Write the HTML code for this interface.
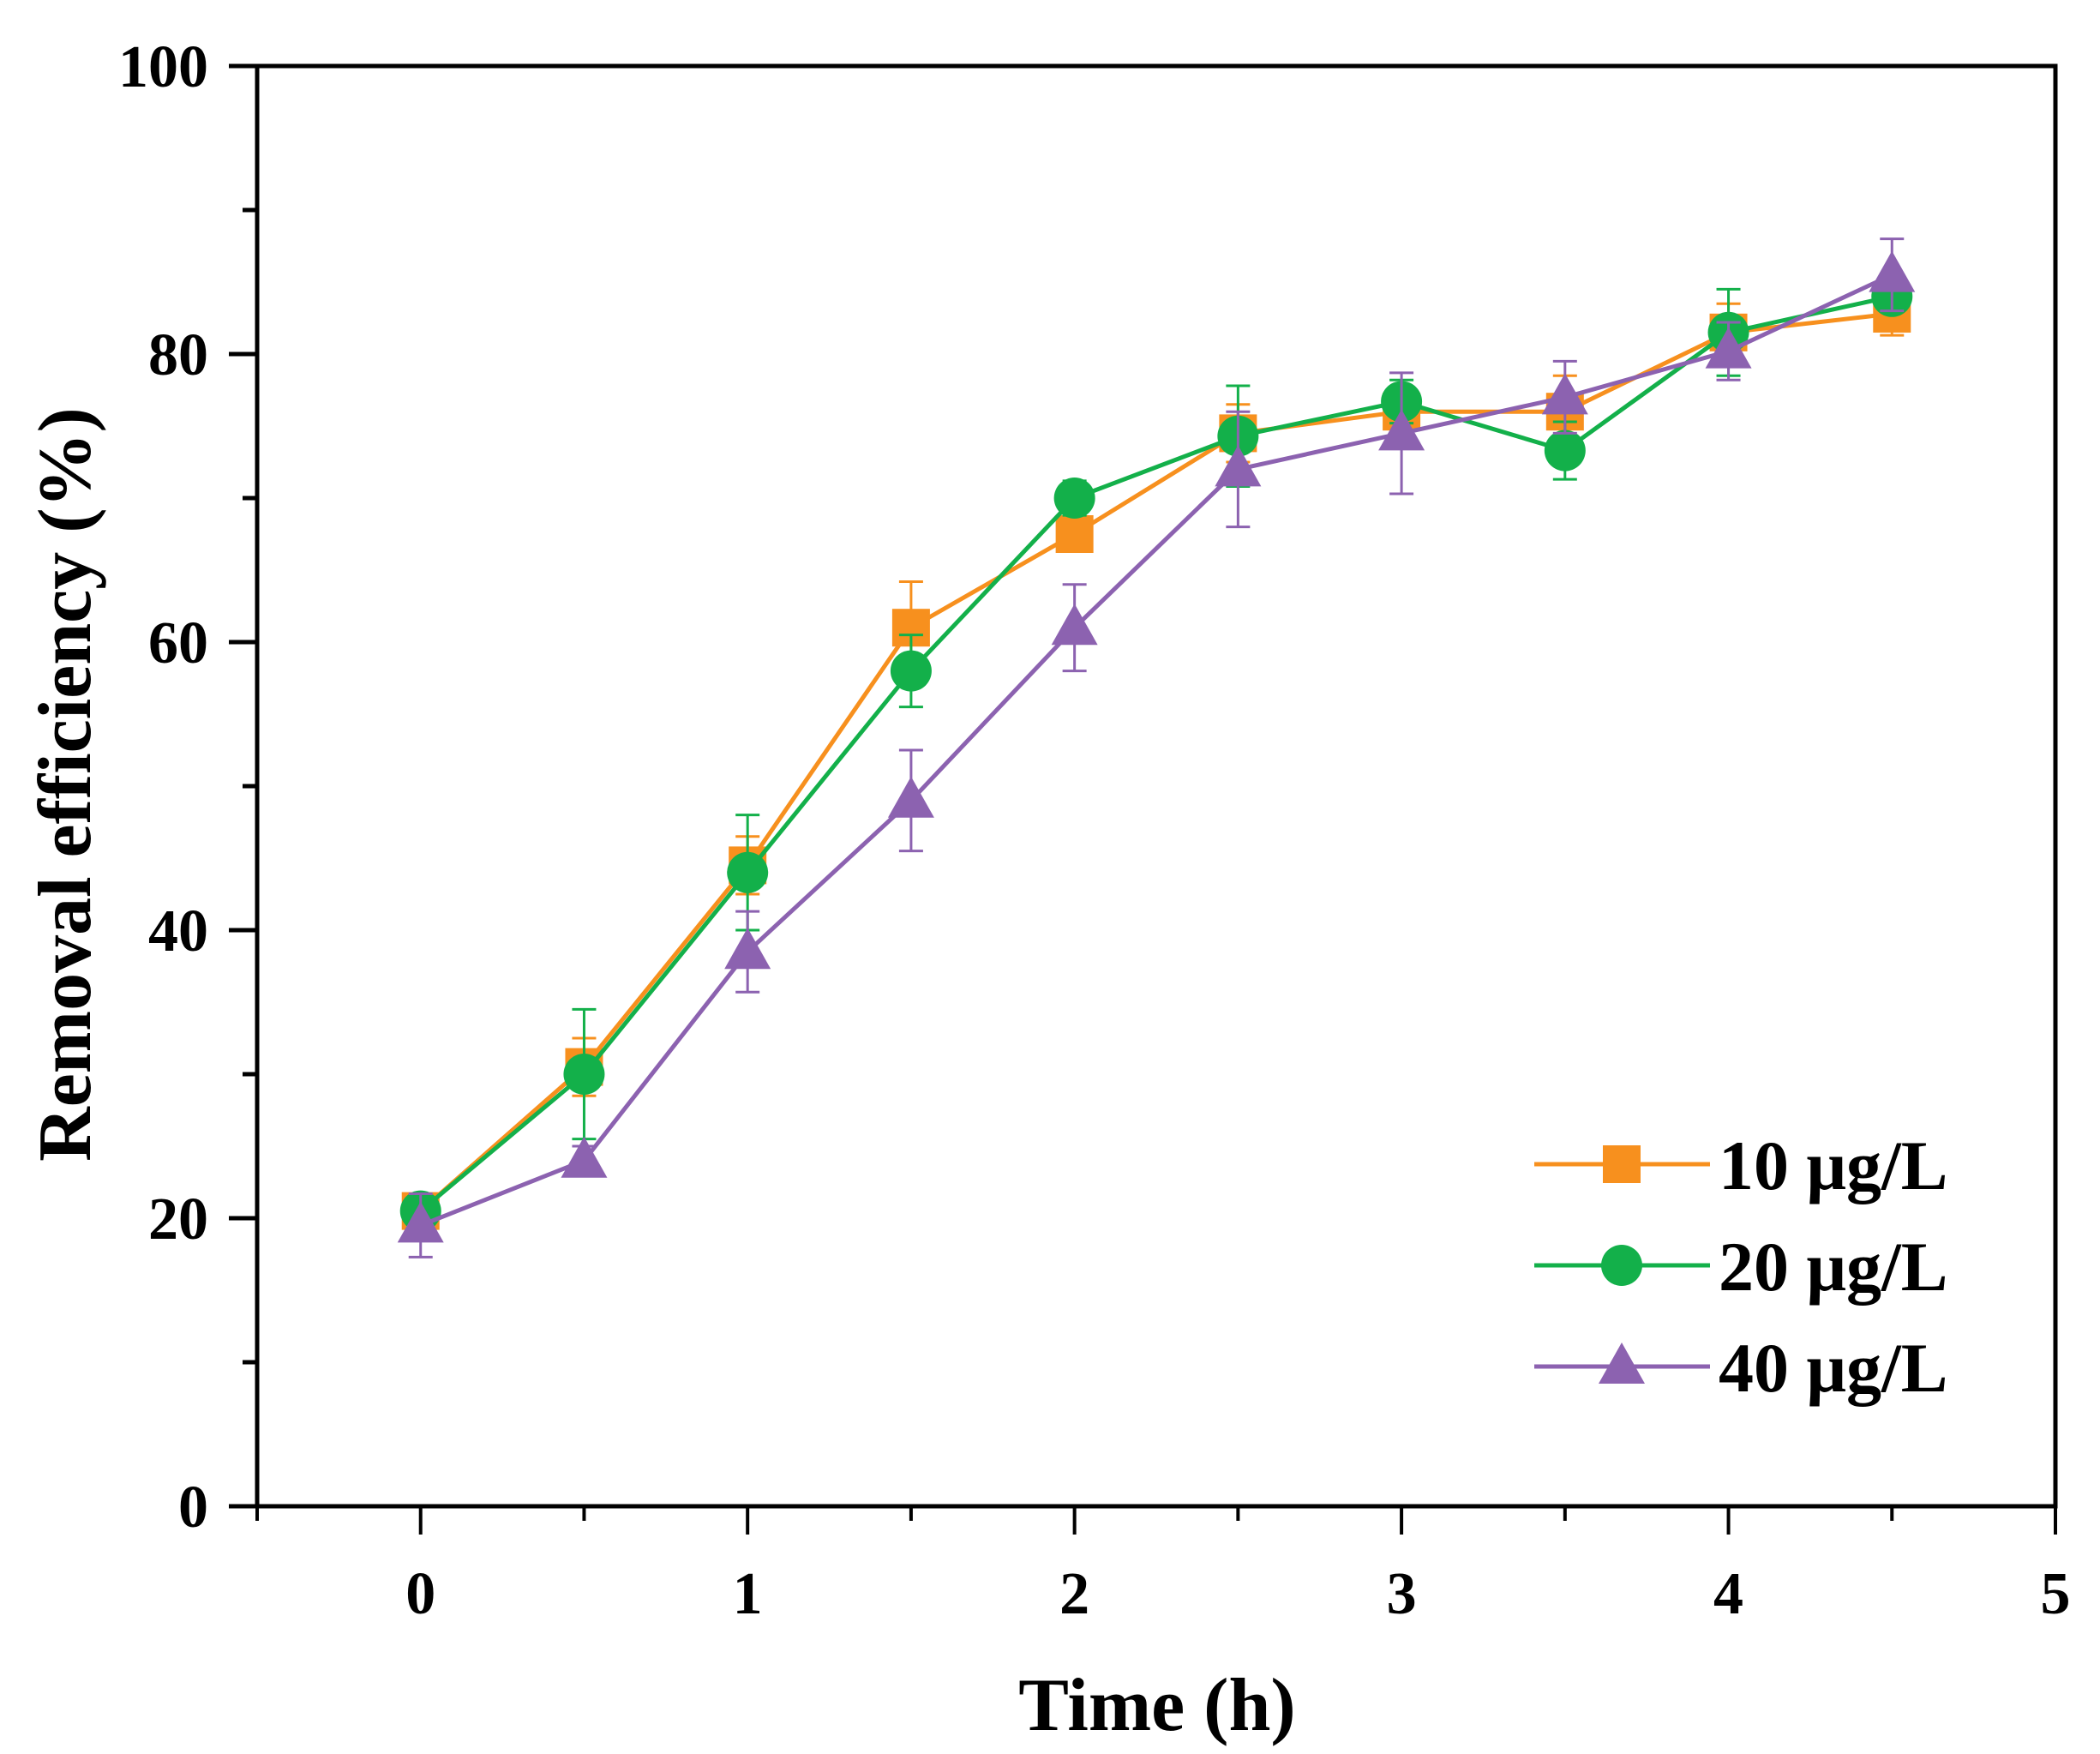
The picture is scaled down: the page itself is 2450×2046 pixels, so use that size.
<!DOCTYPE html>
<html><head><meta charset="utf-8"><style>
html,body{margin:0;padding:0;background:#fff;}
svg{display:block;}
text{font-family:"Liberation Serif",serif;font-weight:bold;fill:#000;}
</style></head><body>
<svg id="chart" width="2450" height="2046" viewBox="0 0 2450 2046" xmlns="http://www.w3.org/2000/svg">
<g id="axes"></g>
<g id="series"></g>
<g id="legend"></g>
<text x="1350" y="2018" font-size="88" text-anchor="middle">Time (h)</text>
<text transform="translate(105,915) rotate(-90)" font-size="88" text-anchor="middle">Removal efficiency (%)</text>
</svg>
<script>
const times = [0,0.5,1,1.5,2,2.5,3,3.5,4,4.5];
const s10 = [20.5,30.5,44.5,61,67.5,74.5,76,76,81.5,82.8];
const s20 = [20.5,30,44,58,70,74.3,76.7,73.3,81.5,84];
const s40 = [19.5,24,38.5,49,61,72,74.5,77,80.2,85.5];
const e10 = [1,2,2,3.2,1,2,1.5,2.5,2,1.5];
const e20 = [1,4.5,4,2.5,1.2,3.5,1.5,2,3,1];
const e40 = [2.2,1,2.8,3.5,3,4,4.2,2.5,2,2.5];
const xTicks = [0,1,2,3,4,5];
const yTicks = [0,20,40,60,80,100];
const seriesNames = ["10 μg/L","20 μg/L","40 μg/L"];

const NS="http://www.w3.org/2000/svg";
const L=300,R=2398,T=77,B=1757;
const X0=-0.5,X1=5,Y0=0,Y1=100;
function sx(v){return L+(v-X0)/(X1-X0)*(R-L);}
function sy(v){return B-(v-Y0)/(Y1-Y0)*(B-T);}
function mk(tag,attrs,parent){const e=document.createElementNS(NS,tag);for(const k in attrs)e.setAttribute(k,attrs[k]);parent.appendChild(e);return e;}
const axes=document.getElementById('axes');
let el=mk('rect',{x:L,y:T,width:R-L,height:B-T,fill:'none',stroke:'#000','stroke-width':5},axes);


for(let v=0;v<=100;v+=10){
  const major=v%20===0;
  el=mk('line',{x1:L-(major?33:17),x2:L,y1:sy(v),y2:sy(v),stroke:'#000','stroke-width':5},axes);
  
  
}
yTicks.forEach(v=>{
  el=mk('text',{x:243,y:sy(v)+24,'font-size':70,'text-anchor':'end'},axes);
  el.textContent=v;
  
  
});
for(let v=-0.5;v<=5.001;v+=0.5){
  const major=Math.abs(v-Math.round(v))<1e-6;
  el=mk('line',{x1:sx(v),x2:sx(v),y1:B,y2:B+(major?33:17),stroke:'#000','stroke-width':4},axes);
  
  
}
xTicks.forEach(v=>{
  el=mk('text',{x:sx(v),y:1882,'font-size':70,'text-anchor':'middle'},axes);
  el.textContent=v;
  
  
});
function marker(type,x,y,color,parent){
  let m;
  if(type==='square'){m=mk('rect',{x:x-22,y:y-22,width:44,height:44,fill:color},parent);}
  else if(type==='circle'){m=mk('circle',{cx:x,cy:y,r:24,fill:color},parent);}
  else {m=mk('polygon',{points:`${x},${y-28} ${x-27},${y+20} ${x+27},${y+20}`,fill:color},parent);}
  return m;
}
const defs=[
 {vals:s10,errs:e10,color:'#F7901E',type:'square',name:'series-10ugL'},
 {vals:s20,errs:e20,color:'#13B04A',type:'circle',name:'series-20ugL'},
 {vals:s40,errs:e40,color:'#8C62B0',type:'triangle',name:'series-40ugL'}
];
const sg=document.getElementById('series');
defs.forEach(d=>{
  const g=mk('g',{},sg);
  
  
  times.forEach((t,i)=>{
    const x=sx(t),y1=sy(d.vals[i]+d.errs[i]),y2=sy(d.vals[i]-d.errs[i]);
    el=mk('path',{d:`M${x},${y1}V${y2}M${x-14},${y1}H${x+14}M${x-14},${y2}H${x+14}`,stroke:d.color,'stroke-width':3,fill:'none'},g);
    
    
  });
  el=mk('polyline',{points:times.map((t,i)=>sx(t)+','+sy(d.vals[i])).join(' '),fill:'none',stroke:d.color,'stroke-width':5},g);
  
  
  times.forEach((t,i)=>{
    el=marker(d.type,sx(t),sy(d.vals[i]),d.color,g);
    
    
  });
});
const lg=document.getElementById('legend');
const ly=[1358,1476,1594];
defs.forEach((d,i)=>{
  el=mk('line',{x1:1790,x2:1995,y1:ly[i],y2:ly[i],stroke:d.color,'stroke-width':5},lg);
  
  
  el=marker(d.type,1892,ly[i],d.color,lg);
  
  
  el=mk('text',{x:2005,y:ly[i]+29,'font-size':82},lg);
  el.textContent=seriesNames[i];
  
  
});
</script>
</body></html>
